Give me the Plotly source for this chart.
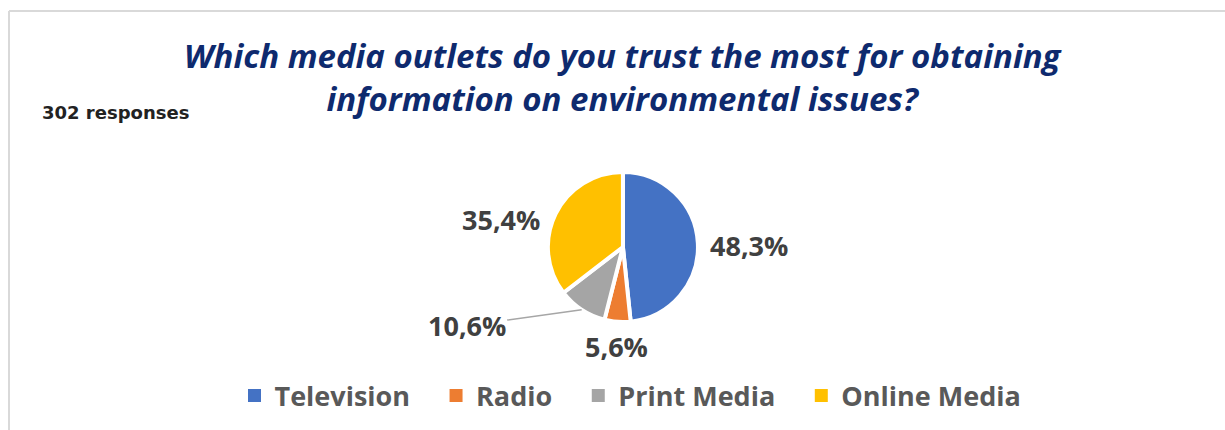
import math
import plotly.graph_objects as go

# Survey results: trusted media outlets for environmental information
categories = ["Television", "Radio", "Print Media", "Online Media"]
shares = [48.3, 5.6, 10.6, 35.4]
share_labels = ["48,3%", "5,6%", "10,6%", "35,4%"]
slice_colors = ["#4472C4", "#ED7D31", "#A5A5A5", "#FFC000"]

title_text = ("Which media outlets do you trust the most for obtaining<br>"
              "information on environmental issues?")
responses_note = "302 responses"

W, H = 1225, 430
PIE_X = [0.3, 0.717]
PIE_Y = [0.251, 0.6]

# pixel offset of each value label from the outer edge of its slice
label_offsets = [(51, 2), (-1, 25), (-115, 16), (-55, 6)]
label_connector = [False, False, True, False]

fig = go.Figure(
    go.Pie(
        labels=categories,
        values=shares,
        textinfo="none",
        sort=False,
        direction="clockwise",
        rotation=0,
        marker=dict(colors=slice_colors, line=dict(color="white", width=4)),
        domain=dict(x=PIE_X, y=PIE_Y),
        hoverinfo="label+percent",
        showlegend=False,
    )
)

# legend keys: solid squares, with a little trailing room after each name
for name, color in zip(categories, slice_colors):
    fig.add_trace(go.Scatter(
        x=[None], y=[None], mode="markers",
        name=name + "\u00a0\u00a0\u00a0",
        marker=dict(symbol="square", size=13, color=color),
        hoverinfo="skip",
    ))

# value labels placed just outside the middle of each slice
cx = (PIE_X[0] + PIE_X[1]) / 2 * W
cy = (1 - (PIE_Y[0] + PIE_Y[1]) / 2) * H
radius = min((PIE_X[1] - PIE_X[0]) * W, (PIE_Y[1] - PIE_Y[0]) * H) / 2
total = sum(shares)
annotations = []
running = 0.0
for value, text, (dx, dy), connector in zip(shares, share_labels,
                                            label_offsets, label_connector):
    mid = (running + value / 2) / total * 2 * math.pi
    running += value
    ex = cx + radius * math.sin(mid)
    ey = cy - radius * math.cos(mid)
    annotations.append(dict(
        text=text,
        x=ex / W, y=1 - ey / H, xref="paper", yref="paper",
        showarrow=True, ax=dx, ay=dy, axref="pixel", ayref="pixel",
        arrowhead=0, arrowwidth=1.5, standoff=0, startstandoff=0,
        arrowcolor="#A6A6A6" if connector else "rgba(0,0,0,0)",
        font=dict(family="Open Sans", size=27, color="#404040", weight="bold"),
    ))

annotations.append(dict(
    text=title_text,
    x=623 / W, xref="paper", xanchor="center",
    y=1 - 77 / H, yref="paper", yanchor="middle",
    showarrow=False,
    font=dict(family="Open Sans", size=33, color="#0E2A6E",
              weight="bold", style="italic"),
))
annotations.append(dict(
    text=responses_note,
    x=40 / W, xref="paper", xanchor="left",
    y=1 - 112 / H, yref="paper", yanchor="middle",
    showarrow=False,
    font=dict(family="DejaVu Sans", size=18, color="#222222", weight="bold"),
))

fig.update_layout(
    width=W,
    height=H,
    margin=dict(l=0, r=0, t=0, b=0),
    paper_bgcolor="white",
    plot_bgcolor="white",
    xaxis=dict(visible=False),
    yaxis=dict(visible=False),
    showlegend=True,
    legend=dict(
        orientation="h",
        x=641 / W,
        xanchor="center",
        y=1 - 396 / H,
        yanchor="middle",
        font=dict(family="Open Sans", size=27, color="#595959", weight="bold"),
        itemclick=False,
        traceorder="normal",
    ),
    annotations=annotations,
    shapes=[
        # light frame along the top and left edges
        dict(type="line", xref="paper", yref="paper",
             x0=9 / W, x1=1, y0=1 - 11 / H, y1=1 - 11 / H,
             line=dict(color="#D9D9D9", width=2)),
        dict(type="line", xref="paper", yref="paper",
             x0=9 / W, x1=9 / W, y0=1 - 11 / H, y1=0,
             line=dict(color="#D9D9D9", width=2)),
    ],
)

fig.write_html("out.html")
